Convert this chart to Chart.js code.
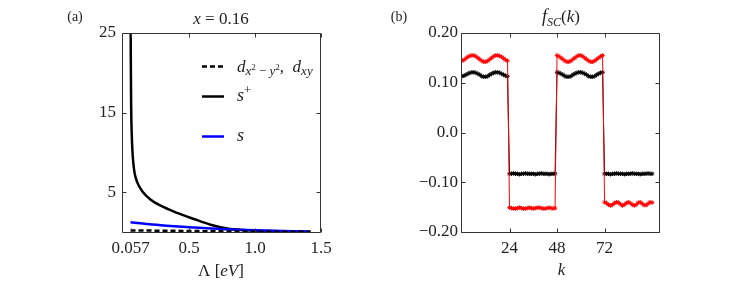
<!DOCTYPE html>
<html>
<head>
<meta charset="utf-8">
<script src="https://cdn.jsdelivr.net/npm/chart.js@4.4.0/dist/chart.umd.min.js"></script>
<style>
  html, body { margin: 0; padding: 0; background: #fff; }
  #wrap { position: relative; width: 747px; height: 307px; }
  canvas { position: absolute; top: 0; }
</style>
</head>
<body>
<div id="wrap">
  <canvas id="left" width="373" height="307" style="left:0"></canvas>
  <canvas id="right" width="374" height="307" style="left:373px"></canvas>
</div>
<script>
// ---- panel (a): x = 0.16, curves vs Lambda [eV]
const lambdaSPlus = [0.0575, 0.059, 0.062, 0.066, 0.071, 0.078, 0.088, 0.109, 0.147, 0.21, 0.285, 0.41, 0.537, 0.663, 0.79, 0.915, 1.04, 1.2, 1.42];
const sPlus       = [30, 22, 15.5, 12.4, 10.3, 8.7, 7.4, 6.2, 5.1, 4.06, 3.3, 2.4, 1.63, 0.92, 0.45, 0.25, 0.16, 0.09, 0.04];
const lambdaS     = [0.057, 0.285, 0.54, 0.77, 1.04, 1.42];
const sWave       = [1.22, 0.85, 0.56, 0.35, 0.2, 0.04];
const lambdaD     = [0.057, 0.5, 0.8, 1.42];
const dWave       = [0.2, 0.13, 0.07, 0.02];
const lambdaTicks = [0.057, 0.5, 1.0, 1.5];
const lambdaTickLabels = ['0.057', '0.5', '1.0', '1.5'];
const chiTicks = [5, 15, 25];

// ---- panel (b): f_SC(k), k = 0 .. 96
const kPoints = Array.from({length: 97}, (_, i) => i);
const fscBlack = [
  0.113, 0.114, 0.116, 0.118, 0.120, 0.121, 0.121, 0.120, 0.118, 0.116, 0.113, 0.112,
  0.112, 0.113, 0.116, 0.118, 0.120, 0.121, 0.121, 0.120, 0.118, 0.116, 0.114, 0.113,
  -0.083, -0.083, -0.082, -0.083, -0.083, -0.084, -0.083, -0.083, -0.082, -0.083, -0.083, -0.083,
  -0.083, -0.084, -0.083, -0.083, -0.082, -0.083, -0.083, -0.083, -0.084, -0.083, -0.083, -0.083,
  0.121, 0.120, 0.118, 0.116, 0.113, 0.112, 0.112, 0.113, 0.116, 0.118, 0.120, 0.121,
  0.121, 0.120, 0.118, 0.116, 0.113, 0.112, 0.112, 0.113, 0.116, 0.118, 0.120, 0.121,
  -0.083, -0.083, -0.083, -0.084, -0.083, -0.083, -0.082, -0.083, -0.083, -0.083, -0.084, -0.083,
  -0.083, -0.083, -0.082, -0.083, -0.083, -0.083, -0.084, -0.083, -0.083, -0.083, -0.082, -0.083, -0.083
];
const fscRed = [
  0.144, 0.146, 0.149, 0.152, 0.154, 0.155, 0.155, 0.153, 0.150, 0.147, 0.144, 0.142,
  0.142, 0.144, 0.147, 0.150, 0.153, 0.155, 0.155, 0.154, 0.152, 0.149, 0.146, 0.144,
  -0.151, -0.152, -0.153, -0.153, -0.152, -0.151, -0.152, -0.153, -0.153, -0.152, -0.151, -0.152,
  -0.153, -0.152, -0.151, -0.151, -0.152, -0.153, -0.153, -0.152, -0.151, -0.152, -0.153, -0.152,
  0.155, 0.153, 0.150, 0.147, 0.144, 0.142, 0.142, 0.144, 0.147, 0.150, 0.153, 0.155,
  0.155, 0.153, 0.150, 0.147, 0.144, 0.142, 0.142, 0.144, 0.147, 0.150, 0.153, 0.155,
  -0.140, -0.142, -0.145, -0.147, -0.145, -0.142, -0.140, -0.141, -0.144, -0.147, -0.145, -0.142,
  -0.140, -0.142, -0.145, -0.147, -0.145, -0.141, -0.140, -0.143, -0.146, -0.146, -0.143, -0.140, -0.141
];
const kTicks = [24, 48, 72];
const fscTicks = [-0.2, -0.1, 0, 0.1, 0.2];
const fscTickLabels = ['\u22120.20', '\u22120.10', '0.0', '0.10', '0.20'];

const SERIF = "'Liberation Serif', 'DejaVu Serif', serif";
const INK = '#222';

// frame + inward tick marks on all four sides, matplotlib style
function framePlugin(xTicks, yTicks) {
  return {
    id: 'frame',
    afterDatasetsDraw(chart) {
      const {ctx, chartArea: a, scales: {x, y}} = chart;
      const L = a.left - 0.5, R = a.right - 0.5, T = a.top + 0.5, B = a.bottom + 0.5;
      ctx.save();
      ctx.strokeStyle = '#333';
      ctx.lineWidth = 1;
      ctx.beginPath();
      ctx.rect(L, T, R - L, B - T);
      xTicks.forEach(v => {
        const p = Math.round(x.getPixelForValue(v)) + 0.5;
        ctx.moveTo(p, B); ctx.lineTo(p, B - 4);
        ctx.moveTo(p, T); ctx.lineTo(p, T + 4);
      });
      yTicks.forEach(v => {
        const p = Math.round(y.getPixelForValue(v)) + 0.5;
        ctx.moveTo(L, p); ctx.lineTo(L + 4, p);
        ctx.moveTo(R, p); ctx.lineTo(R - 4, p);
      });
      ctx.stroke();
      ctx.restore();
    }
  };
}

// runs: [text, size, italic, dy]
function drawRuns(ctx, runs, x, baseline, align) {
  const fontOf = r => (r[2] ? 'italic ' : '') + r[1] + 'px ' + SERIF;
  let w = 0;
  runs.forEach(r => { ctx.font = fontOf(r); w += ctx.measureText(r[0]).width; });
  let cx = align === 'center' ? x - w / 2 : x;
  ctx.textAlign = 'left';
  ctx.textBaseline = 'alphabetic';
  ctx.fillStyle = INK;
  runs.forEach(r => {
    ctx.font = fontOf(r);
    ctx.fillText(r[0], cx, baseline + (r[3] || 0));
    cx += ctx.measureText(r[0]).width;
  });
}

function axisOpts(min, max, ticks, labels, fit, pad) {
  return {
    type: 'linear', min: min, max: max,
    afterFit: fit,
    afterBuildTicks: s => { s.ticks = ticks.map(v => ({value: v})); },
    grid: {display: false, drawTicks: false},
    border: {display: false},
    ticks: {
      padding: pad, autoSkip: false, maxRotation: 0, color: INK,
      font: {family: SERIF, size: 17},
      callback: (v, i) => labels[i]
    }
  };
}

const pts = (xs, ys) => xs.map((v, i) => ({x: v, y: ys[i]}));

new Chart(document.getElementById('left'), {
  type: 'line',
  data: {
    datasets: [
      {data: pts(lambdaD, dWave), borderColor: '#000', borderWidth: 2.5, borderDash: [5, 3], pointRadius: 0, cubicInterpolationMode: 'monotone'},
      {data: pts(lambdaS, sWave), borderColor: '#0000ff', borderWidth: 2.5, pointRadius: 0, cubicInterpolationMode: 'monotone'},
      {data: pts(lambdaSPlus, sPlus), borderColor: '#000', borderWidth: 2.5, pointRadius: 0, cubicInterpolationMode: 'monotone'}
    ]
  },
  options: {
    responsive: false, animation: false, events: [],
    layout: {padding: {left: 0, right: 52, top: 33, bottom: 0}},
    datasets: {line: {clip: {left: 0, top: 0, right: 0, bottom: 2}}},
    plugins: {legend: {display: false}, tooltip: {enabled: false}},
    scales: {
      x: axisOpts(0, 1.5, lambdaTicks, lambdaTickLabels, s => { s.height = 75; }, 6),
      y: axisOpts(0, 25, chiTicks, chiTicks.map(String), s => { s.width = 123; }, 7)
    }
  },
  plugins: [framePlugin(lambdaTicks, chiTicks), {
    id: 'textA',
    afterDraw(chart) {
      const ctx = chart.ctx;
      ctx.save();
      drawRuns(ctx, [['(a)', 14]], 75, 21, 'center');
      drawRuns(ctx, [['x', 17, true], [' = 0.16', 17]], 221, 23.5, 'center');
      drawRuns(ctx, [['\u039b [', 17], ['eV', 17, true], [']', 17]], 221, 276, 'center');
      // legend
      ctx.lineWidth = 2.5;
      ctx.strokeStyle = '#000';
      ctx.setLineDash([5, 3]);
      ctx.beginPath(); ctx.moveTo(202, 66.5); ctx.lineTo(224, 66.5); ctx.stroke();
      ctx.setLineDash([]);
      ctx.beginPath(); ctx.moveTo(202, 96.5); ctx.lineTo(224, 96.5); ctx.stroke();
      ctx.strokeStyle = '#0000ff';
      ctx.beginPath(); ctx.moveTo(202, 136.5); ctx.lineTo(224, 136.5); ctx.stroke();
      drawRuns(ctx, [['d', 17, true], ['x', 13, true, 3], ['2', 9, false, -2], [' \u2212 ', 13, false, 3],
        ['y', 13, true, 3], ['2', 9, false, -2], [',  ', 17], ['d', 17, true], ['xy', 13, true, 3]], 237, 71.5, 'left');
      drawRuns(ctx, [['s', 18, true], ['+', 13, false, -7]], 237, 101, 'left');
      drawRuns(ctx, [['s', 18, true]], 237, 141, 'left');
      ctx.restore();
    }
  }]
});

new Chart(document.getElementById('right'), {
  type: 'line',
  data: {
    datasets: [
      {data: pts(kPoints, fscRed), borderColor: '#ff0000', backgroundColor: '#ff0000', borderWidth: 1,
        pointStyle: 'star', pointRadius: 2.2, pointBorderColor: '#ff0000', pointBorderWidth: 1},
      {data: pts(kPoints, fscBlack), borderColor: '#000', backgroundColor: '#000', borderWidth: 1,
        pointStyle: 'star', pointRadius: 2.2, pointBorderColor: '#000', pointBorderWidth: 1}
    ]
  },
  options: {
    responsive: false, animation: false, events: [],
    layout: {padding: {left: 0, right: 87, top: 33, bottom: 0}},
    plugins: {legend: {display: false}, tooltip: {enabled: false}},
    scales: {
      x: axisOpts(0, 100, kTicks, kTicks.map(String), s => { s.height = 75; }, 6),
      y: axisOpts(-0.2, 0.2, fscTicks, fscTickLabels, s => { s.width = 89; }, 4)
    }
  },
  plugins: [framePlugin(kTicks, fscTicks), {
    id: 'textB',
    afterDraw(chart) {
      const ctx = chart.ctx;
      ctx.save();
      drawRuns(ctx, [['(b)', 14]], 26, 21, 'center');
      drawRuns(ctx, [['f', 18, true], ['SC', 12, true, 4], ['(', 17], ['k', 17, true], [')', 17]], 188, 22, 'center');
      drawRuns(ctx, [['k', 17, true]], 188.5, 275, 'center');
      ctx.restore();
    }
  }]
});
</script>
</body>
</html>
